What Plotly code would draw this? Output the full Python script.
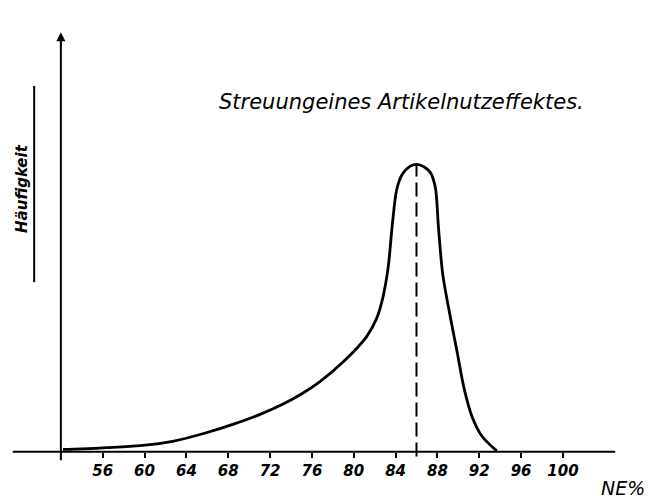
import plotly.graph_objects as go

# --- data ---
ne_percent = [52.2, 54.0, 56.4, 59.6, 62.8, 65.9, 68.5, 71.1, 73.3, 75.0, 76.8, 79.0,
              81.2, 82.2, 82.8, 83.3, 83.7, 84.1, 84.6, 85.4, 86.0, 86.7, 87.3, 87.8,
              88.1, 88.5, 89.2, 89.84, 90.54, 91.3, 92.3, 93.67]
haeufigkeit = [0.8, 1.0, 1.4, 2.1, 3.7, 6.6, 9.6, 13.1, 16.7, 20.1, 24.5, 31.3,
               39.9, 46.5, 53.9, 64.4, 79.5, 91.1, 96.3, 99.4, 100.0, 99.2, 97.3, 92.0,
               78.0, 62.0, 47.5, 35.6, 22.2, 12.3, 5.2, 0.3]
tick_values = [56, 60, 64, 68, 72, 76, 80, 84, 88, 92, 96, 100]
tick_labels = [str(v) for v in tick_values]
peak_ne = 86.0
peak_h = 100.0

title_text = "Streuungeines Artikelnutzeffektes."
ylabel_text = "Häufigkeit"
xlabel_text = "NE%"

W, H = 660, 498
X_RANGE = [46.18, 109.28]
Y_RANGE = [-16.1, 157.2]

hand_font = "DejaVu Sans"

fig = go.Figure()

# x-axis baseline (extends a bit left of the y-axis)
fig.add_trace(go.Scatter(x=[47.4, 105.0], y=[0, 0], mode="lines",
                         line=dict(color="black", width=2), hoverinfo="skip",
                         showlegend=False))

# distribution curve
fig.add_trace(go.Scatter(x=ne_percent, y=haeufigkeit, mode="lines",
                         line=dict(color="black", width=2.8, shape="spline", smoothing=0.8),
                         showlegend=False))

# dashed line at the peak
fig.add_trace(go.Scatter(x=[peak_ne, peak_ne], y=[-1.7, peak_h], mode="lines",
                         line=dict(color="black", width=2, dash="14px,6px"),
                         hoverinfo="skip", showlegend=False))

# y-axis with arrowhead
fig.add_annotation(x=52, y=146, ax=52, ay=-3.5, xref="x", yref="y", axref="x", ayref="y",
                   showarrow=True, arrowhead=2, arrowsize=0.9, arrowwidth=2,
                   arrowcolor="black", text="")

# title
fig.add_annotation(x=84.6, y=121.7, xref="x", yref="y", text=title_text, showarrow=False,
                   font=dict(family=hand_font, size=21, color="black", style="italic"))

# y label (rotated) with its underline
fig.add_annotation(x=48.3, y=91.5, xref="x", yref="y", text=ylabel_text, showarrow=False,
                   textangle=-90,
                   font=dict(family=hand_font, size=15, color="black", style="italic",
                             weight="bold"))
fig.add_shape(type="line", x0=49.45, x1=49.45, y0=59.0, y1=127.3, xref="x", yref="y",
              line=dict(color="black", width=2))

# x label
fig.add_annotation(x=105.74, y=-12.6, xref="x", yref="y", text=xlabel_text, showarrow=False,
                   font=dict(family=hand_font, size=19, color="black", style="italic"))

fig.update_layout(
    width=W, height=H,
    margin=dict(l=0, r=0, t=0, b=0),
    paper_bgcolor="white", plot_bgcolor="white",
    showlegend=False,
    xaxis=dict(range=X_RANGE, showgrid=False, zeroline=False, showline=False,
               anchor="free", position=(H - 451.7) / H,
               tickmode="array", tickvals=tick_values, ticktext=tick_labels,
               ticks="outside", ticklen=5, tickwidth=1.5, tickcolor="black",
               tickfont=dict(family=hand_font, size=15, color="black", style="italic",
                             weight="bold")),
    yaxis=dict(range=Y_RANGE, visible=False, showgrid=False, zeroline=False),
)

fig.write_html("out.html", config={"displayModeBar": False},
               post_script="document.body.style.margin='0px';")
